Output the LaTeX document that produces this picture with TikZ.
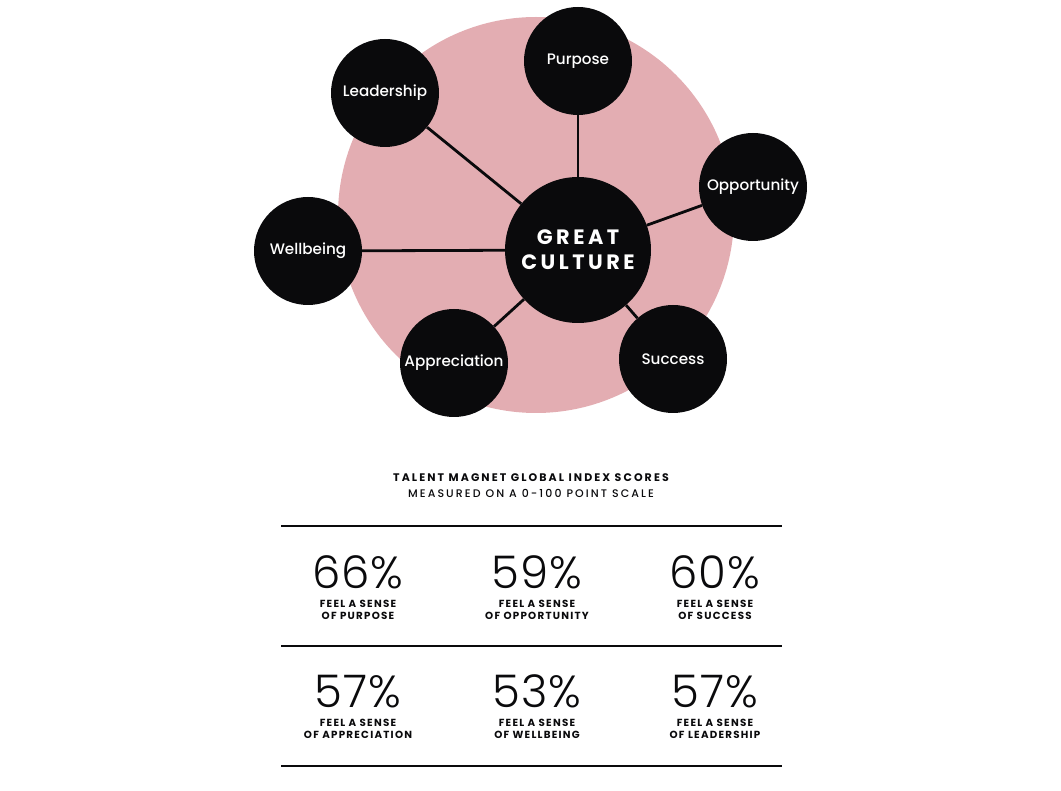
\documentclass[tikz,border=0pt]{standalone}
\usepackage{fontspec}
\setmainfont{Poppins}
\newfontfamily\boldsp[LetterSpace=19]{Poppins Bold}
\newfontfamily\boldlbl[LetterSpace=12]{Poppins Bold}
\newfontfamily\medsp[LetterSpace=19]{Poppins Medium}
\newfontfamily\greatfont[LetterSpace=17]{Poppins Bold}
\newfontfamily\medfont{Poppins Medium}
\newfontfamily\lightfont[LetterSpace=2]{Poppins Light}
\definecolor{pinkbg}{HTML}{E3ADB2}
\definecolor{ink}{HTML}{0A0A0C}
\tikzset{
  hub/.style={circle, fill=ink, inner sep=0pt, minimum size=146pt, text=white, align=center, font=\greatfont\fontsize{20.8}{25}\selectfont},
  spoke/.style={circle, fill=ink, inner sep=0pt, minimum size=108pt, text=white, font=\medfont\fontsize{15.2}{18}\selectfont},
  link/.style={line width=2.8pt, draw=ink},
  rule/.style={line width=1.6pt, draw=ink},
  pct/.style={font=\lightfont\fontsize{45}{45}\selectfont, text=ink, inner sep=0pt, anchor=base},
  lbl/.style={font=\boldlbl\fontsize{10.3}{12.5}\selectfont, text=ink, align=center, inner sep=0pt},
  ttl/.style={font=\fontsize{11}{16}\selectfont, text=ink, align=center, inner sep=0pt}
}
\begin{document}
\begin{tikzpicture}[x=1pt,y=-1pt]
\useasboundingbox (0,0) rectangle (1061,791);
\fill[pinkbg] (536,215) circle (198);
\node[hub] (c) at (578,250) {GREAT\\CULTURE};
\node[spoke] (pur) at (578,61) {Purpose};
\node[spoke] (lea) at (385,93) {Leadership};
\node[spoke] (opp) at (753,187) {Opportunity};
\node[spoke] (wel) at (308,251) {Wellbeing};
\node[spoke] (app) at (454,363) {Appreciation};
\node[spoke] (suc) at (673,359) {Success};
\draw[link] (c) -- (pur);
\draw[link] (c) -- (lea);
\draw[link] (c) -- (opp);
\draw[link] (c) -- (wel);
\draw[link] (c) -- (app);
\draw[link] (c) -- (suc);
\node[ttl] (t) at (531,486) {{\boldsp TALENT MAGNET GLOBAL INDEX SCORES}\\{\medsp MEASURED ON A 0-100 POINT SCALE}};
\coordinate (l1a) at (281,526); \coordinate (l1b) at (782,526);
\coordinate (l2a) at (281,646); \coordinate (l2b) at (782,646);
\coordinate (l3a) at (281,766); \coordinate (l3b) at (782,766);
\draw[rule] (l1a) -- (l1b);
\draw[rule] (l2a) -- (l2b);
\draw[rule] (l3a) -- (l3b);
\node[pct] (p1) at (358,588) {66\%};
\node[pct] (p2) at (537,588) {59\%};
\node[pct] (p3) at (715,588) {60\%};
\node[pct] (p4) at (358,707) {57\%};
\node[pct] (p5) at (537,707) {53\%};
\node[pct] (p6) at (715,707) {57\%};
\node[lbl] (q1) at (358,610) {FEEL A SENSE\\OF PURPOSE};
\node[lbl] (q2) at (537,610) {FEEL A SENSE\\OF OPPORTUNITY};
\node[lbl] (q3) at (715,610) {FEEL A SENSE\\OF SUCCESS};
\node[lbl] (q4) at (358,729) {FEEL A SENSE\\OF APPRECIATION};
\node[lbl] (q5) at (537,729) {FEEL A SENSE\\OF WELLBEING};
\node[lbl] (q6) at (715,729) {FEEL A SENSE\\OF LEADERSHIP};
\end{tikzpicture}
\end{document}
